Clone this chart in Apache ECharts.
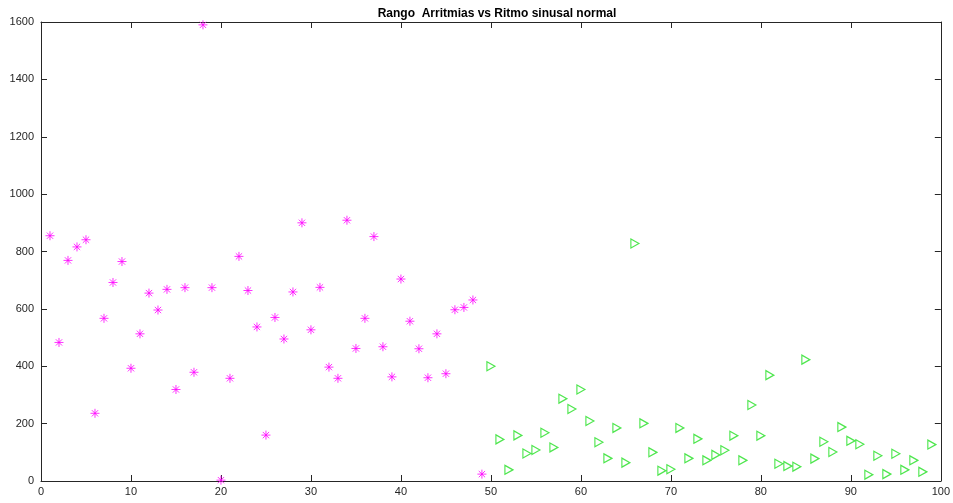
<!DOCTYPE html>
<html><head><meta charset="utf-8">
<script src="https://cdn.jsdelivr.net/npm/echarts@6/dist/echarts.min.js"></script>
<style>html,body{margin:0;padding:0;background:#fff}#c{width:953px;height:503px}</style>
</head><body><div id="c"></div>
<script>
const titleText = 'Rango  Arritmias vs Ritmo sinusal normal';
const arrX = [1,2,3,4,5,6,7,8,9,10,11,12,13,14,15,16,17,18,19,20,21,22,23,24,25,26,27,28,29,30,31,32,33,34,35,36,37,38,39,40,41,42,43,44,45,46,47,48,49];
const arrY = [855,483,769,816,841,236,567,692,765,393,513,655,596,668,319,674,379,1590,674,3,358,783,664,537,160,570,495,659,900,527,675,397,358,909,462,567,852,468,363,704,557,461,360,513,374,597,605,631,24];
const nsrX = [50,51,52,53,54,55,56,57,58,59,60,61,62,63,64,65,66,67,68,69,70,71,72,73,74,75,76,77,78,79,80,81,82,83,84,85,86,87,88,89,90,91,92,93,94,95,96,97,98,99];
const nsrY = [400,145,39,159,96,108,168,117,287,251,319,209,135,79,185,64,828,201,100,36,41,185,79,147,72,91,107,158,72,265,158,369,60,52,50,423,78,137,101,188,140,128,22,88,24,95,39,72,32,127];
const xTicks = {min:0, max:100, interval:10};
const yTicks = {min:0, max:1600, interval:200};

const chart = echarts.init(document.getElementById('c'), null, {renderer:'canvas'});
const axCol = '#262626';
function xa(pos, show){
  return {type:'value', position:pos, min:xTicks.min, max:xTicks.max, interval:xTicks.interval,
    axisLine:{show:true, onZero:false, lineStyle:{color:axCol, width:1}},
    axisTick:{show:true, inside:true, length:6, lineStyle:{color:axCol}},
    axisLabel:{show:show, color:axCol, fontSize:11, fontFamily:'Liberation Sans, Arial', margin:5, formatter:v=>String(v)},
    splitLine:{show:false}};
}
function ya(pos, show){
  return {type:'value', position:pos, min:yTicks.min, max:yTicks.max, interval:yTicks.interval,
    axisLine:{show:true, onZero:false, lineStyle:{color:axCol, width:1}},
    axisTick:{show:true, inside:true, length:6, lineStyle:{color:axCol}},
    axisLabel:{show:show, color:axCol, fontSize:11, fontFamily:'Liberation Sans, Arial', margin:7, formatter:v=>String(v)},
    splitLine:{show:false}};
}
const star = 'path://M5,0L5,10M0,5L10,5M1.5,1.5L8.5,8.5M1.5,8.5L8.5,1.5';
chart.setOption({
  animation:false,
  backgroundColor:'#fff',
  title:{text:titleText, left:492, top:3, textAlign:'center',
    textStyle:{fontSize:12, fontWeight:'bold', color:'#000', fontFamily:'Liberation Sans, Arial'}},
  grid:{left:41, right:10, top:22, bottom:22},
  xAxis:[xa('bottom', true), xa('top', false)],
  yAxis:[ya('left', true), ya('right', false)],
  series:[
    {type:'scatter', data:arrX.map((x,i)=>[x, arrY[i]]), symbol:star, symbolSize:9,
      itemStyle:{color:'rgba(0,0,0,0)', borderColor:'#ff00ff', borderWidth:1}},
    {type:'scatter', data:nsrX.map((x,i)=>[x, nsrY[i]]), symbol:'triangle', symbolRotate:-90, symbolSize:[9,8],
      itemStyle:{color:'rgba(0,0,0,0)', borderColor:'#22e022', borderWidth:1.2}}
  ]
});
</script></body></html>
